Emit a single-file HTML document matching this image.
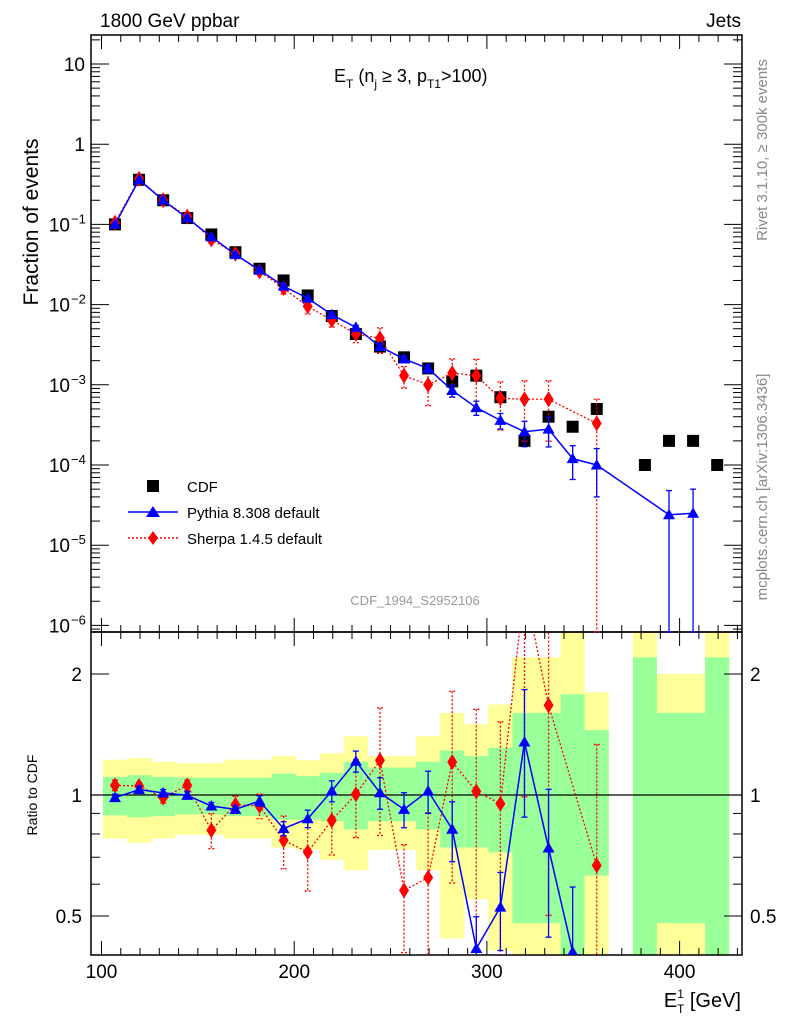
<!DOCTYPE html>
<html><head><meta charset="utf-8">
<style>
html,body{margin:0;padding:0;background:#fff;}
svg{display:block;font-family:"Liberation Sans",sans-serif;}
</style></head>
<body>
<svg id="chart" width="786" height="1024" viewBox="0 0 786 1024" xmlns="http://www.w3.org/2000/svg">
<rect x="0" y="0" width="786" height="1024" fill="#fff"/>
<g id="bands"></g>
<g id="grid"></g>
<g id="marks"></g>
<text x="100" y="27" font-size="19">1800 GeV ppbar</text>
<text x="741" y="27" font-size="19" text-anchor="end">Jets</text>
<text x="334" y="82" font-size="18">E<tspan font-size="12" dy="6">T</tspan><tspan dy="-6"> (n</tspan><tspan font-size="12" dy="6">j</tspan><tspan dy="-6"> ≥ 3, p</tspan><tspan font-size="12" dy="6">T1</tspan><tspan dy="-6">&gt;100)</tspan></text>
<text transform="translate(38,222) rotate(-90)" font-size="21" text-anchor="middle">Fraction of events</text>
<text transform="translate(37,795) rotate(-90)" font-size="14" text-anchor="middle">Ratio to CDF</text>
<text transform="translate(767,150) rotate(-90)" font-size="15" fill="#888" text-anchor="middle">Rivet 3.1.10, ≥ 300k events</text>
<text transform="translate(767,487) rotate(-90)" font-size="15" fill="#888" text-anchor="middle">mcplots.cern.ch [arXiv:1306.3436]</text>
<text x="415" y="605" font-size="13" fill="#999" text-anchor="middle">CDF_1994_S2952106</text>
<text x="741" y="1007" font-size="20" text-anchor="end">E<tspan font-size="12" dy="-9">1</tspan><tspan font-size="12" dx="-7" dy="15">T</tspan><tspan dy="-6"> [GeV]</tspan></text>
<g>
 <rect x="147" y="480" width="12" height="12" fill="#000"/>
 <text x="187" y="492" font-size="15">CDF</text>
 <line x1="128" y1="512" x2="178" y2="512" stroke="#00f" stroke-width="1.5"/>
 <polygon points="153,506 160,517 146,517" fill="#00f"/>
 <text x="187" y="518" font-size="15">Pythia 8.308 default</text>
 <line x1="128" y1="538" x2="178" y2="538" stroke="#f00" stroke-width="1.5" stroke-dasharray="2,2"/>
 <polygon points="153,531 158,538 153,545 148,538" fill="#f00"/>
 <text x="187" y="544" font-size="15">Sherpa 1.4.5 default</text>
</g>
</svg>
<script>
// ---- data ----
const binLow = 100.75, binWidth = 12.5;
const cdfBins    = [0,1,2,3,4,5,6,7,8,9,10,11,12,13,14,15,16,17,18,19,20,22,23,24,25];
const cdfValues  = [0.1,0.36,0.2,0.12,0.075,0.045,0.028,0.02,0.013,0.0072,0.0043,0.003,0.0022,0.0016,0.0011,0.0013,0.0007,0.0002,0.0004,0.0003,0.0005,0.0001,0.0002,0.0002,0.0001];
const pythiaBins   = [0,1,2,3,4,5,6,7,8,9,10,11,12,13,14,15,16,17,18,19,20,23,24];
const pythiaValues = [0.1,0.36,0.2,0.12,0.07,0.042,0.027,0.017,0.012,0.0075,0.0052,0.003,0.0021,0.0016,0.00085,0.00052,0.00036,0.00026,0.00028,0.00012,0.0001,0.000024,0.000025];
const pythiaRelErr = [0.02,0.02,0.02,0.02,0.02,0.02,0.03,0.04,0.05,0.06,0.06,0.09,0.1,0.12,0.17,0.2,0.22,0.35,0.4,0.45,0.6,1.0,1.0];
const sherpaBins   = [0,1,2,3,4,5,6,7,8,9,10,11,12,13,14,15,16,17,18,20];
const sherpaValues = [0.105,0.37,0.2,0.125,0.065,0.043,0.026,0.016,0.0095,0.0064,0.0043,0.0038,0.0013,0.001,0.0014,0.0013,0.00068,0.00066,0.00066,0.00033];
const sherpaRelErr = [0.03,0.02,0.03,0.03,0.1,0.05,0.07,0.15,0.2,0.18,0.22,0.35,0.3,0.45,0.5,0.6,0.6,0.7,0.7,1.0];
const pythiaRatioBins = [0,1,2,3,4,5,6,7,8,9,10,11,12,13,14,15,16,17,18,19];
const pythiaRatio = [0.985,1.031,1.012,0.998,0.939,0.921,0.966,0.825,0.873,1.023,1.213,1.013,0.921,1.023,0.822,0.415,0.526,1.355,0.738,0.407];
const sherpaRatioBins = [0,1,2,3,4,5,6,7,8,9,10,11,12,13,14,15,16,17,18,20];
const sherpaRatio = [1.057,1.053,0.985,1.057,0.817,0.946,0.939,0.771,0.721,0.865,1.004,1.22,0.579,0.623,1.208,1.021,0.951,3.3,1.672,0.668];
const bandBins    = [0,1,2,3,4,5,6,7,8,9,10,11,12,13,14,15,16,17,18,19,20,22,23,24,25];
const yellowHi = [1.224,1.236,1.21,1.2,1.2,1.224,1.224,1.25,1.22,1.27,1.4,1.25,1.25,1.4,1.6,1.5,1.68,2.2,2.2,2.6,1.8,3,2,2,3];
const greenHi  = [1.109,1.12,1.109,1.104,1.104,1.104,1.104,1.13,1.114,1.135,1.21,1.17,1.17,1.21,1.29,1.25,1.31,1.6,1.6,1.78,1.45,2.2,1.6,1.6,2.2];
const greenLo  = [0.89,0.88,0.886,0.895,0.895,0.886,0.886,0.868,0.868,0.861,0.821,0.86,0.86,0.821,0.74,0.74,0.72,0.48,0.48,0.3,0.63,0.3,0.48,0.48,0.3];
const yellowLo = [0.779,0.76,0.779,0.796,0.796,0.779,0.779,0.74,0.73,0.69,0.65,0.73,0.73,0.65,0.44,0.55,0.41,0.3,0.3,0.3,0.3,0.3,0.3,0.3,0.3];
const xTicks = [100,200,300,400];
const mainTicks = [1,0,-1,-2,-3,-4,-5,-6];
const mainTickLabels = ["10","1","10","10","10","10","10","10"];
const mainTickExp = ["","","−1","−2","−3","−4","−5","−6"];
const ratioTicks = [0.5,1,2];
const ratioTickLabels = ["0.5","1","2"];

// ---- layout ----
const L=91,R=742,T=35,MB=632,RB=955;
const X=v=>101.5+(v-100)*1.927;
const Y=v=>64+(1-Math.log10(v))*80.2;
const YR=v=>795-121*Math.log2(v);
const binC=i=>binLow+binWidth*(i+0.5);
const NS="http://www.w3.org/2000/svg";
function mk(parent,tag,attrs){const e=document.createElementNS(NS,tag);for(const k in attrs)e.setAttribute(k,attrs[k]);parent.appendChild(e);return e;}
const clampM=y=>Math.max(T,Math.min(MB,y));
const clampR=y=>Math.max(MB,Math.min(RB,y));
const bands=document.getElementById('bands'),grid=document.getElementById('grid'),marks=document.getElementById('marks');

// bands
bandBins.forEach((b,k)=>{
  const x1=X(binLow+binWidth*b),x2=X(binLow+binWidth*(b+1));
  const y=mk(bands,'rect',{x:x1,y:clampR(YR(yellowHi[k])),width:x2-x1,height:clampR(YR(yellowLo[k]))-clampR(YR(yellowHi[k])),fill:'#ffff99'});
  
  
  const g=mk(bands,'rect',{x:x1,y:clampR(YR(greenHi[k])),width:x2-x1,height:clampR(YR(greenLo[k]))-clampR(YR(greenHi[k])),fill:'#99ff99'});
  
  
});

// frames
[[T,MB],[MB,RB]].forEach(([a,b])=>mk(grid,'rect',{x:L,y:a,width:R-L,height:b-a,fill:'none',stroke:'#000','stroke-width':1.5}));
mk(grid,'line',{x1:L,x2:R,y1:YR(1),y2:YR(1),stroke:'#000','stroke-width':1.2});
// x ticks
for(let v=100;v<=430;v+=10){
  const maj=v%100===0,len=maj?14:7;
  [[T,1],[MB,1],[MB,-1],[RB,-1]].forEach(([y0,s])=>mk(grid,'line',{x1:X(v),x2:X(v),y1:y0,y2:y0+s*len,stroke:'#000','stroke-width':1}));
}
xTicks.forEach(v=>{const t=mk(grid,'text',{x:X(v),y:978,'font-size':19,'text-anchor':'middle'});t.textContent=v;
  
  });
// main y ticks
for(let d=-7;d<=1;d++){for(let m=1;m<10;m++){const v=m*Math.pow(10,d);const y=Y(v);if(y<T||y>MB)continue;const len=m===1?18:9;
  mk(grid,'line',{x1:L,x2:L+len,y1:y,y2:y,stroke:'#000'});mk(grid,'line',{x1:R,x2:R-len,y1:y,y2:y,stroke:'#000'});}}
mainTicks.forEach((e,k)=>{const t=mk(grid,'text',{x:mainTickExp[k]?70:85,y:Y(Math.pow(10,e))+7,'font-size':19,'text-anchor':'end'});
  t.textContent=mainTickLabels[k];
  
  
  if(mainTickExp[k]){const s=mk(grid,'text',{x:71,y:Y(Math.pow(10,e))-1,'font-size':13});s.textContent=mainTickExp[k];}});
// ratio ticks
[0.4,0.5,0.6,0.7,0.8,0.9,1,2].forEach(v=>{const y=YR(v);if(y>RB)return;const len=(v===0.5||v===1||v===2)?18:9;
  mk(grid,'line',{x1:L,x2:L+len,y1:y,y2:y,stroke:'#000'});mk(grid,'line',{x1:R,x2:R-len,y1:y,y2:y,stroke:'#000'});});
ratioTicks.forEach((v,k)=>{[[82,'end'],[750,'start']].forEach(([x,a])=>{const t=mk(grid,'text',{x:x,y:YR(v)+7,'font-size':19,'text-anchor':a});t.textContent=ratioTickLabels[k];
  
  });});

// markers
function tri(g,x,y,s){return mk(g,'polygon',{points:`${x},${y-s} ${x+s},${y+s*0.75} ${x-s},${y+s*0.75}`,fill:'#00f'});}
function dia(g,x,y){return mk(g,'polygon',{points:`${x},${y-8} ${x+5},${y} ${x},${y+8} ${x-5},${y}`,fill:'#f00'});}
function errbar(g,x,y1,y2,col,dash){mk(g,'line',{x1:x,x2:x,y1:y1,y2:y2,stroke:col,'stroke-width':1.3,'stroke-dasharray':dash||'none'});
  [y1,y2].forEach(yy=>mk(g,'line',{x1:x-3,x2:x+3,y1:yy,y2:yy,stroke:col,'stroke-width':1.3,'stroke-dasharray':dash||'none'}));}

// CDF
cdfBins.forEach((b,k)=>{const r=mk(marks,'rect',{x:X(binC(b))-6,y:Y(cdfValues[k])-6,width:12,height:12,fill:'#000'});
  
  });
// Sherpa main
(function(){const g=mk(marks,'g',{});
 mk(g,'polyline',{points:sherpaBins.map((b,k)=>X(binC(b))+','+Y(sherpaValues[k])).join(' '),fill:'none',stroke:'#f00','stroke-width':1.3,'stroke-dasharray':'2,2'});
 sherpaBins.forEach((b,k)=>{const x=X(binC(b)),v=sherpaValues[k],e=sherpaRelErr[k];
  errbar(g,x,clampM(Y(v*(1+e))),clampM(e>=1?MB:Y(v*(1-e))),'#f00','2,2');
  const d=dia(g,x,Y(v));
  
  });})();
// Pythia main
(function(){const g=mk(marks,'g',{});
 mk(g,'polyline',{points:pythiaBins.map((b,k)=>X(binC(b))+','+Y(pythiaValues[k])).join(' '),fill:'none',stroke:'#00f','stroke-width':1.5});
 pythiaBins.forEach((b,k)=>{const x=X(binC(b)),v=pythiaValues[k],e=pythiaRelErr[k];
  errbar(g,x,clampM(Y(v*(1+e))),clampM(e>=1?MB:Y(v*(1-e))),'#00f');
  const t=tri(g,x,Y(v),6);
  
  });})();

// ratio panel
const clip=mk(marks,'clipPath',{id:'rc'});mk(clip,'rect',{x:L,y:MB,width:R-L,height:RB-MB});
(function(){const g=mk(marks,'g',{'clip-path':'url(#rc)'});
 mk(g,'polyline',{points:sherpaRatioBins.map((b,k)=>X(binC(b))+','+YR(sherpaRatio[k])).join(' '),fill:'none',stroke:'#f00','stroke-width':1.3,'stroke-dasharray':'2,2'});
 sherpaRatioBins.forEach((b,k)=>{const x=X(binC(b)),v=sherpaRatio[k],e=sherpaRelErr[sherpaBins.indexOf(b)]||0.5;
  errbar(g,x,YR(v*(1+e)),e>=1?RB+10:YR(v*(1-e)),'#f00','2,2');
  const d=dia(g,x,YR(v));
  
  });
 mk(g,'polyline',{points:pythiaRatioBins.map((b,k)=>X(binC(b))+','+YR(pythiaRatio[k])).join(' '),fill:'none',stroke:'#00f','stroke-width':1.5});
 pythiaRatioBins.forEach((b,k)=>{const x=X(binC(b)),v=pythiaRatio[k],e=pythiaRelErr[pythiaBins.indexOf(b)];
  errbar(g,x,YR(v*(1+e)),YR(Math.max(v*(1-e),0.01)),'#00f');
  const t=tri(g,x,YR(v),6);
  
  });})();
</script>
</body></html>
